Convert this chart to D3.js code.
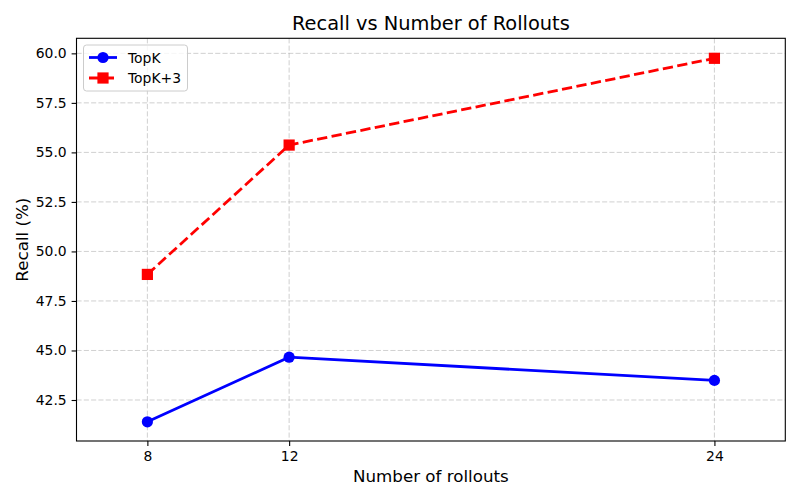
<!DOCTYPE html>
<html><head><meta charset="utf-8">
<script src="https://cdn.jsdelivr.net/npm/d3@7/dist/d3.min.js"></script>
<style>body{margin:0;background:#fff}svg{display:block;font-family:"DejaVu Sans",sans-serif}</style>
</head><body>
<svg id="c" width="800" height="500"></svg>
<script>
const rollouts = [8, 12, 24];
const topK = [41.40, 44.66, 43.49];
const topK3 = [48.84, 55.37, 59.75];
const yTicks = [42.5, 45.0, 47.5, 50.0, 52.5, 55.0, 57.5, 60.0];
const seriesNames = ["TopK", "TopK+3"];

const svg = d3.select("#c");
const L = 76.5, R = 785.3, T = 38.3, B = 441;
const x = d3.scaleLinear().domain([6, 26]).range([L, R]);
const y = d3.scaleLinear().domain([40.43, 60.76]).range([B, T]);

// grid
const g = svg.append("g");
g.selectAll(".gx").data(rollouts).join("line")
  .attr("x1", d => x(d)).attr("x2", d => x(d)).attr("y1", T).attr("y2", B)
  .attr("stroke", "#b0b0b0").attr("stroke-opacity", 0.6).attr("stroke-width", 1).attr("stroke-dasharray", "5.1,2.2");
g.selectAll(".gy").data(yTicks).join("line")
  .attr("x1", L).attr("x2", R).attr("y1", d => y(d)).attr("y2", d => y(d))
  .attr("stroke", "#b0b0b0").attr("stroke-opacity", 0.6).attr("stroke-width", 1).attr("stroke-dasharray", "5.1,2.2");

// axes
const xa = svg.append("g").attr("transform", `translate(0,${B})`)
  .call(d3.axisBottom(x).tickValues(rollouts).tickFormat(d3.format("d")).tickSize(4.9).tickPadding(4.9));
const ya = svg.append("g").attr("transform", `translate(${L},0)`)
  .call(d3.axisLeft(y).tickValues(yTicks).tickFormat(d3.format(".1f")).tickSize(4.9).tickPadding(4.9));
[xa, ya].forEach(a => {
  a.select(".domain").remove();
  a.selectAll(".tick line").attr("stroke", "#000").attr("stroke-width", 1.1);
  a.selectAll(".tick text").attr("fill", "#000").style("font-size", "13.9px").style("font-family", "DejaVu Sans");
});
svg.append("rect").attr("x", L).attr("y", T).attr("width", R - L).attr("height", B - T)
  .attr("fill", "none").attr("stroke", "#000").attr("stroke-width", 1.1);

const line = d3.line().x((d, i) => x(rollouts[i])).y(d => y(d));
// TopK
svg.append("path").datum(topK).attr("d", line).attr("fill", "none").attr("stroke", "blue").attr("stroke-width", 2.78);
svg.selectAll(".m1").data(topK).join("circle").attr("cx", (d, i) => x(rollouts[i])).attr("cy", d => y(d)).attr("r", 5.6).attr("fill", "blue");
// TopK+3
svg.append("path").datum(topK3).attr("d", line).attr("fill", "none").attr("stroke", "red").attr("stroke-width", 2.78).attr("stroke-dasharray", "10.3,4.4");
svg.selectAll(".m2").data(topK3).join("rect").attr("x", (d, i) => x(rollouts[i]) - 5.6).attr("y", d => y(d) - 5.6).attr("width", 11.2).attr("height", 11.2).attr("fill", "red");

// legend
const lg = svg.append("g");
lg.append("rect").attr("x", 83.5).attr("y", 45).attr("width", 104).attr("height", 46).attr("rx", 3)
  .attr("fill", "#fff").attr("fill-opacity", 0.8).attr("stroke", "#ccc").attr("stroke-width", 1);
const ly = [57.5, 78];
lg.append("line").attr("x1", 89).attr("x2", 117).attr("y1", ly[0]).attr("y2", ly[0]).attr("stroke", "blue").attr("stroke-width", 2.78);
lg.append("circle").attr("cx", 103).attr("cy", ly[0]).attr("r", 5.6).attr("fill", "blue");
lg.append("line").attr("x1", 89).attr("x2", 117).attr("y1", ly[1]).attr("y2", ly[1]).attr("stroke", "red").attr("stroke-width", 2.78).attr("stroke-dasharray", "10.3,4.4");
lg.append("rect").attr("x", 103 - 5.6).attr("y", ly[1] - 5.6).attr("width", 11.2).attr("height", 11.2).attr("fill", "red");
lg.selectAll(".lt").data(seriesNames).join("text").attr("x", 128).attr("y", (d, i) => ly[i] + 5)
  .style("font-size", "13.9px").text(d => d);

// titles
svg.append("text").attr("x", (L + R) / 2).attr("y", 30).attr("text-anchor", "middle").style("font-size", "19.4px").text("Recall vs Number of Rollouts");
svg.append("text").attr("x", (L + R) / 2).attr("y", 482).attr("text-anchor", "middle").style("font-size", "16.7px").text("Number of rollouts");
svg.append("text").attr("transform", `translate(28,${(T + B) / 2}) rotate(-90)`).attr("text-anchor", "middle").style("font-size", "16.7px").text("Recall (%)");
</script>
</body></html>
